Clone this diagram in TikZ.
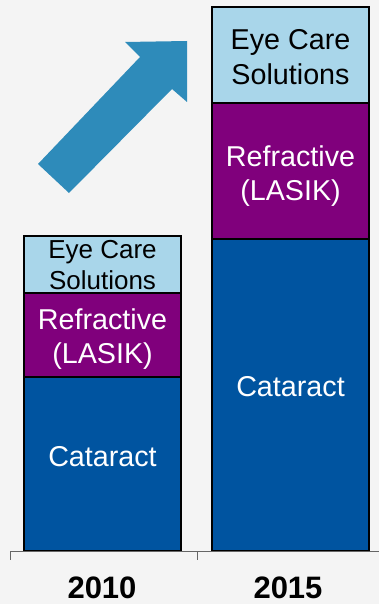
\documentclass[tikz,border=0pt]{standalone}
\usepackage{fontspec}
\setmainfont{Liberation Sans}
\definecolor{bgGray}{HTML}{F4F4F4}
\definecolor{eyeBlue}{HTML}{A9D6EA}
\definecolor{lasikPurple}{HTML}{80007C}
\definecolor{cataractBlue}{HTML}{0054A0}
\definecolor{growthBlue}{HTML}{2E8BBA}
\begin{document}
\begin{tikzpicture}[
    x=1pt, y=-1pt,
    every node/.style={align=center, inner sep=0pt},
    bar box/.style={draw=black, line width=1.6pt},
    big label/.style={font=\fontsize{28.7}{34.5}\selectfont},
    small label/.style={font=\fontsize{26}{31}\selectfont},
    year label/.style={font=\fontsize{31}{37}\selectfont\bfseries},
    axis line/.style={draw=black!60, line width=0.9pt},
    ]
\fill[bgGray] (0,0) rectangle (379,604);
% 2010 bar
\filldraw[bar box, fill=cataractBlue] (24,377) rectangle (181,551);
\filldraw[bar box, fill=lasikPurple] (24,293) rectangle (181,377);
\filldraw[bar box, fill=eyeBlue] (24,236) rectangle (181,293);
% 2015 bar
\filldraw[bar box, fill=cataractBlue] (212,239) rectangle (369,551);
\filldraw[bar box, fill=lasikPurple] (212,103) rectangle (369,239);
\filldraw[bar box, fill=eyeBlue] (212,7) rectangle (369,103);
% axis
\draw[axis line] (10,551) -- (379,551);
\draw[axis line] (10,551) -- (10,560);
\draw[axis line] (197,551) -- (197,560);
% growth arrow
\fill[growthBlue] (38,164) -- (69,193) -- (172,89) -- (187,102) -- (187,41)
    -- (125,42) -- (140,57) -- cycle;
% labels
\node[small label] (eyeA) at (102.5,265) {Eye Care\\Solutions};
\node[big label, white] (lasikA) at (102.5,339) {Refractive\\(LASIK)};
\node[big label, white] (cataractA) at (102.5,457) {Cataract};
\node[big label] (eyeB) at (290.5,57) {Eye Care\\Solutions};
\node[big label, white] (lasikB) at (290.5,176) {Refractive\\(LASIK)};
\node[big label, white] (cataractB) at (290.5,387) {Cataract};
\node[year label] (yearA) at (102,588) {2010};
\node[year label] (yearB) at (288,588) {2015};
\end{tikzpicture}
\end{document}
